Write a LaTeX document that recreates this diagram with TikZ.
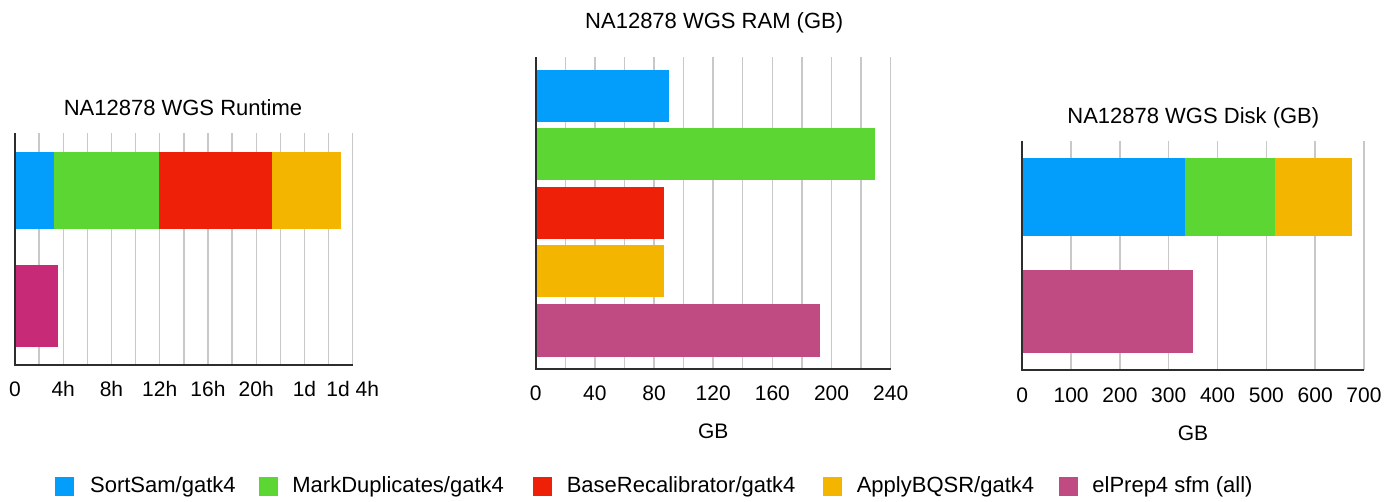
\documentclass[tikz,border=0pt]{standalone}
\usepackage{fontspec}
\setmainfont{Liberation Sans}
\usetikzlibrary{positioning}
\definecolor{colSort}{RGB}{3,158,252}
\definecolor{colMark}{RGB}{92,214,50}
\definecolor{colBase}{RGB}{238,32,8}
\definecolor{colApply}{RGB}{243,181,0}
\definecolor{colElprep}{RGB}{192,74,130}
\definecolor{colElprepRt}{RGB}{199,42,118}
\definecolor{colGrid}{RGB}{200,200,200}
\definecolor{colAxis}{RGB}{45,45,45}
\tikzset{
    base/.style={font=\fontsize{21}{25}\selectfont, inner sep=0pt},
    charttitle/.style={base, anchor=base, font=\fontsize{22}{26}\selectfont},
    ticklabel/.style={base, anchor=base},
    gridline/.style={draw=colGrid, line width=1.4pt},
    axisline/.style={draw=colAxis, line width=1.8pt},
    legendkey/.style={rectangle, minimum size=19pt, inner sep=0pt, anchor=north west},
    legendtext/.style={base, font=\fontsize{22}{26}\selectfont, anchor=west,
                       text height=16pt, text depth=4.6pt}
}

\begin{document}
\begin{tikzpicture}[x=1pt, y=-1pt]
  \useasboundingbox (0,0) rectangle (1399,501);

  % Runtime chart (hours, 12.06 per hour)
  \node[charttitle] (rtTitle) at (183,115.7) {NA12878 WGS Runtime};
  \foreach \i in {1,...,14} {
    \draw[gridline] ({15+24.12*\i},133) -- ({15+24.12*\i},365);
  }
  \fill[colSort] (15,151.7) rectangle (54.3,229.3);
  \fill[colMark] (54.3,151.7) rectangle (159.3,229.3);
  \fill[colBase] (159.3,151.7) rectangle (271.7,229.3);
  \fill[colApply] (271.7,151.7) rectangle (340.7,229.3);
  \fill[colElprepRt] (15,265) rectangle (58.3,346.7);
  \draw[axisline] (15,133) -- (15,365) -- (352.7,365);
  \foreach \lbl [count=\k from 0] in {0,4h,8h,12h,16h,20h,1d,1d 4h} {
    \node[ticklabel] (rtTick\k) at ({15+48.24*\k},396) {\lbl};
  }

  % RAM chart (GB, 1.479 per GB)
  \node[charttitle] (ramTitle) at (714.2,28.3) {NA12878 WGS RAM (GB)};
  \foreach \i in {1,...,12} {
    \draw[gridline] ({535.7+29.58*\i},57.3) -- ({535.7+29.58*\i},369);
  }
  \fill[colSort] (535.7,70) rectangle (668.7,122.3);
  \fill[colMark] (535.7,127.7) rectangle (875.3,180.3);
  \fill[colBase] (535.7,187.3) rectangle (663.7,239.3);
  \fill[colApply] (535.7,245) rectangle (663.7,297.3);
  \fill[colElprep] (535.7,304.3) rectangle (820,356.7);
  \draw[axisline] (535.7,57.3) -- (535.7,369) -- (890.7,369);
  \foreach \lbl [count=\k from 0] in {0,40,80,120,160,200,240} {
    \node[ticklabel] (ramTick\k) at ({535.7+59.17*\k},400) {\lbl};
  }
  \node[ticklabel] (ramUnit) at (713.3,438) {GB};

  % Disk chart (GB, 0.488 per GB)
  \node[charttitle] (diskTitle) at (1193.3,123.3) {NA12878 WGS Disk (GB)};
  \foreach \i in {1,...,7} {
    \draw[gridline] ({1022.3+48.81*\i},140.7) -- ({1022.3+48.81*\i},370);
  }
  \fill[colSort] (1022.3,158.3) rectangle (1185.3,235.7);
  \fill[colMark] (1185.3,158.3) rectangle (1275,235.7);
  \fill[colApply] (1275,158.3) rectangle (1352,235.7);
  \fill[colElprep] (1022.3,270.3) rectangle (1193,352.7);
  \draw[axisline] (1022.3,140.7) -- (1022.3,370) -- (1364,370);
  \foreach \lbl [count=\k from 0] in {0,100,200,300,400,500,600,700} {
    \node[ticklabel] (diskTick\k) at ({1022.3+48.81*\k},402) {\lbl};
  }
  \node[ticklabel] (diskUnit) at (1193,440.7) {GB};

  % Legend
  \node[legendkey, fill=colSort] (keySort) at (55,477) {};
  \node[legendtext, right=15.5pt of keySort] (txtSort) {SortSam/gatk4};
  \node[legendkey, fill=colMark] (keyMark) at (258.3,477) {};
  \node[legendtext, right=14.5pt of keyMark] (txtMark) {MarkDuplicates/gatk4};
  \node[legendkey, fill=colBase] (keyBase) at (532.7,477) {};
  \node[legendtext, right=14.5pt of keyBase] (txtBase) {BaseRecalibrator/gatk4};
  \node[legendkey, fill=colApply] (keyApply) at (822.7,477) {};
  \node[legendtext, right=14.5pt of keyApply] (txtApply) {ApplyBQSR/gatk4};
  \node[legendkey, fill=colElprep] (keyElprep) at (1058.3,477) {};
  \node[legendtext, right=14.5pt of keyElprep] (txtElprep) {elPrep4 sfm (all)};
\end{tikzpicture}
\end{document}
